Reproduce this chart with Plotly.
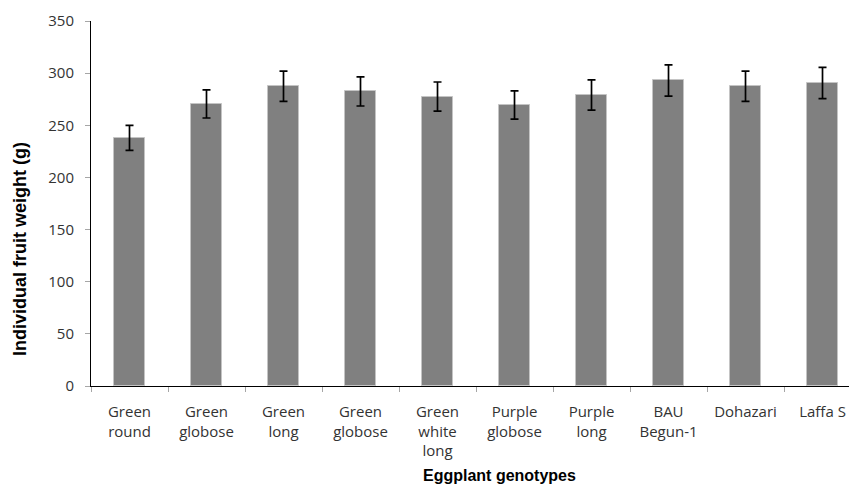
import plotly.graph_objects as go

# Genotype labels (two-line where the original label wraps)
genotypes = [
    "Green<br>round", "Green<br>globose", "Green<br>long", "Green<br>globose",
    "Green<br>white<br>long", "Purple<br>globose", "Purple<br>long",
    "BAU<br>Begun-1", "Dohazari", "Laffa S",
]
# Mean individual fruit weight (g) and standard error
fruit_weight = [238, 270.5, 287.5, 282.5, 277.5, 269.5, 279, 293, 287.5, 290.5]
std_error = [12, 13.5, 14.5, 14, 14, 13.5, 14.5, 15, 14.5, 15]

y_ticks = [0, 50, 100, 150, 200, 250, 300, 350]

positions = list(range(len(genotypes)))

fig = go.Figure(
    go.Bar(
        x=positions,
        y=fruit_weight,
        width=0.4,
        marker=dict(color="#808080", line=dict(color="#c4c4c4", width=1)),
        error_y=dict(type="data", array=std_error, visible=True,
                     color="#000000", thickness=1.7, width=4),
    )
)

tick_font = dict(family="Open Sans", size=15, color="#333333")

fig.update_layout(
    width=849,
    height=486,
    margin=dict(l=91, r=0, t=21, b=100),
    paper_bgcolor="white",
    plot_bgcolor="white",
    showlegend=False,
    bargap=0,
    xaxis=dict(
        range=[-0.5, 9.344],
        tickmode="array",
        tickvals=positions,
        ticktext=genotypes,
        ticks="",
        tickfont=tick_font,
        showgrid=False,
        zeroline=False,
        showline=True,
        linecolor="#000000",
        linewidth=1,
        ticklabelstandoff=12,
        minor=dict(tickmode="linear", tick0=-0.5, dtick=1, ticks="outside",
                   ticklen=5, tickcolor="#a6a6a6", tickwidth=1, showgrid=False),
    ),
    yaxis=dict(
        range=[0, 350],
        tickmode="array",
        tickvals=y_ticks,
        ticks="outside",
        ticklen=5,
        tickcolor="#a6a6a6",
        tickfont=tick_font,
        showgrid=False,
        zeroline=False,
        showline=True,
        linecolor="#000000",
        linewidth=1,
        ticklabelstandoff=8,
    ),
    annotations=[
        dict(
            text="<b>Eggplant genotypes</b>",
            xref="paper", yref="paper",
            x=(499 - 91) / 758, y=(386 - 475) / 365,
            xanchor="center", yanchor="middle",
            showarrow=False,
            font=dict(family="Liberation Sans", size=16, color="#000000"),
        ),
        dict(
            text="<b>Individual fruit weight (g)</b>",
            xref="paper", yref="paper",
            x=(20 - 91) / 758, y=(386 - 249) / 365,
            xanchor="center", yanchor="middle",
            textangle=-90,
            showarrow=False,
            font=dict(family="Liberation Sans", size=18, color="#000000"),
        ),
    ],
)

fig.write_html("out.html")
